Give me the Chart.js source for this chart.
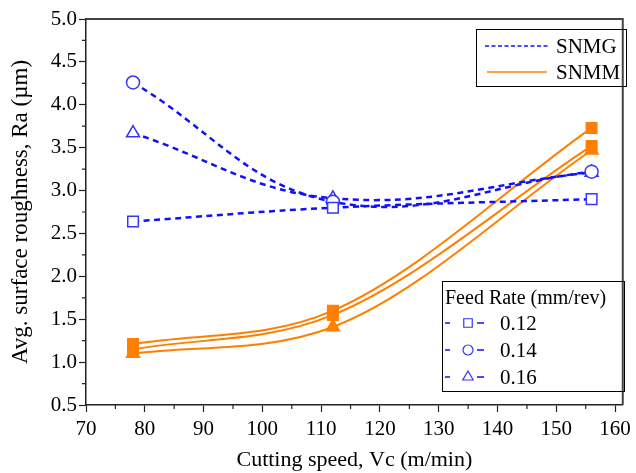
<!DOCTYPE html>
<html>
<head>
<meta charset="utf-8">
<script src="https://cdn.jsdelivr.net/npm/chart.js@4.4.0/dist/chart.umd.min.js"></script>
<style>
  html, body { margin: 0; padding: 0; background: #fff; }
  #wrap { width: 636px; height: 473px; }
</style>
</head>
<body>
<div id="wrap"><canvas id="roughChart" width="636" height="473"></canvas></div>
<script>
// cutting speed (m/min) and feed rates (mm/rev)
const cuttingSpeed = [78, 112, 156];
const feedRates = ["0.12", "0.14", "0.16"];

// SNMG insert, Ra (um)
const snmg012 = [2.64, 2.80, 2.90];
const snmg014 = [4.26, 2.87, 3.22];
const snmg016 = [3.67, 2.91, 3.21];

// SNMM insert, Ra (um)
const snmm012 = [1.21, 1.60, 3.73];
const snmm014 = [1.15, 1.55, 3.52];
const snmm016 = [1.10, 1.41, 3.47];

const xTicks = [70, 80, 90, 100, 110, 120, 130, 140, 150, 160];
const yTicks = [0.5, 1.0, 1.5, 2.0, 2.5, 3.0, 3.5, 4.0, 4.5, 5.0];

const BLUE = "#1010ff";
const ORANGE = "#ff8000";
const AXIS = "#222";
const FONT = "'Liberation Serif', 'Times New Roman', serif";

const toPoints = (values) => values.map((v, i) => ({ x: cuttingSpeed[i], y: v }));

const snmgSet = (values, style, radius) => ({
  data: toPoints(values),
  borderColor: BLUE,
  borderWidth: 2.5,
  borderDash: [6, 4.5],
  tension: 0.4,
  pointStyle: style,
  pointRadius: radius,
  pointBorderWidth: 1.5,
  pointBorderColor: "#3535ff",
  pointBackgroundColor: "#fff",
});

const snmmSet = (values, style, radius) => ({
  data: toPoints(values),
  borderColor: ORANGE,
  borderWidth: 2,
  cubicInterpolationMode: "monotone",
  pointStyle: style,
  pointRadius: radius,
  pointBorderWidth: 0,
  pointBackgroundColor: ORANGE,
});

// minor ticks, top/right frame
const framePlugin = {
  id: "frame",
  afterDraw: (chart) => {
    const { ctx, chartArea: a, scales } = chart;
    ctx.save();
    ctx.strokeStyle = "#444";
    ctx.lineWidth = 2;
    ctx.beginPath();
    ctx.moveTo(a.left, a.top);
    ctx.lineTo(a.right, a.top);
    ctx.lineTo(a.right, a.bottom);
    ctx.stroke();
    ctx.strokeStyle = AXIS;
    ctx.lineWidth = 1.2;
    ctx.beginPath();
    for (let i = 0; i < xTicks.length; i++) {
      const px = scales.x.getPixelForValue(xTicks[i] + 5);
      if (px > a.right) break;
      ctx.moveTo(px, a.bottom);
      ctx.lineTo(px, a.bottom + 4);
    }
    for (let i = 0; i < yTicks.length - 1; i++) {
      const py = scales.y.getPixelForValue(yTicks[i] + 0.25);
      ctx.moveTo(a.left, py);
      ctx.lineTo(a.left - 4, py);
    }
    ctx.stroke();
    ctx.restore();
  },
};

// the two boxed legends
const legendPlugin = {
  id: "legendBoxes",
  afterDraw: (chart) => {
    const { ctx } = chart;
    ctx.save();
    ctx.font = "21px " + FONT;
    ctx.fillStyle = "#000";
    ctx.textBaseline = "middle";
    ctx.strokeStyle = "#000";
    ctx.lineWidth = 1;

    // inserts
    ctx.strokeRect(476.5, 29.5, 150, 57);
    ctx.strokeStyle = BLUE;
    ctx.lineWidth = 1.5;
    ctx.setLineDash([4, 2.5]);
    ctx.beginPath();
    ctx.moveTo(485, 46);
    ctx.lineTo(549, 46);
    ctx.stroke();
    ctx.setLineDash([]);
    ctx.strokeStyle = ORANGE;
    ctx.beginPath();
    ctx.moveTo(487, 72);
    ctx.lineTo(547, 72);
    ctx.stroke();
    ctx.fillText("SNMG", 556, 47);
    ctx.fillText("SNMM", 556, 73);

    // feed rates
    ctx.strokeStyle = "#000";
    ctx.lineWidth = 1;
    ctx.strokeRect(442.5, 281.5, 182, 110);
    ctx.font = "20px " + FONT;
    ctx.fillText("Feed Rate (mm/rev)", 445, 299);
    ctx.font = "21px " + FONT;
    const styles = ["rect", "circle", "triangle"];
    const radii = [6, 5, 6];
    feedRates.forEach((rate, i) => {
      const y = 323 + i * 27;
      ctx.strokeStyle = BLUE;
      ctx.lineWidth = 1.5;
      ctx.beginPath();
      ctx.moveTo(445, y);
      ctx.lineTo(450, y);
      ctx.moveTo(477, y);
      ctx.lineTo(484, y);
      ctx.stroke();
      ctx.fillStyle = "#fff";
      ctx.strokeStyle = "#3535ff";
      ctx.lineWidth = 1.2;
      Chart.helpers.drawPoint(ctx, { pointStyle: styles[i], radius: radii[i], rotation: 0, borderWidth: 1.2 }, 468, y);
      ctx.fillStyle = "#000";
      ctx.fillText(rate, 500, y + 1);
    });
    ctx.restore();
  },
};

Chart.defaults.font.family = FONT;
Chart.defaults.color = "#000";

new Chart(document.getElementById("roughChart"), {
  type: "line",
  data: {
    datasets: [
      snmgSet(snmg012, "rect", 7.5),
      snmgSet(snmg014, "circle", 6.5),
      snmgSet(snmg016, "triangle", 7.5),
      snmmSet(snmm012, "rect", 8.5),
      snmmSet(snmm014, "rect", 8.5),
      snmmSet(snmm016, "triangle", 9),
    ],
  },
  options: {
    responsive: false,
    animation: false,
    devicePixelRatio: 1,
    layout: { padding: { left: 0, top: 19, right: 8, bottom: 0 } },
    plugins: { legend: { display: false }, tooltip: { enabled: false } },
    scales: {
      x: {
        type: "linear",
        min: 70,
        max: 161.3,
        afterBuildTicks: (scale) => {
          scale.ticks = xTicks.map((v) => ({ value: v }));
        },
        afterFit: (scale) => {
          scale.height = 68;
        },
        ticks: { font: { size: 21 }, padding: 5, maxRotation: 0 },
        grid: { drawOnChartArea: false, tickLength: 7, tickColor: AXIS, tickWidth: 1.2 },
        border: { color: AXIS, width: 1.5 },
        title: {
          display: true,
          text: "Cutting speed, Vc (m/min)",
          font: { size: 22 },
          padding: { top: 0, bottom: 0 },
        },
      },
      y: {
        type: "linear",
        min: 0.5,
        max: 5.0,
        afterBuildTicks: (scale) => {
          scale.ticks = yTicks.map((v) => ({ value: v }));
        },
        afterFit: (scale) => {
          scale.width = 86;
        },
        ticks: { font: { size: 21 }, padding: 2, callback: (v) => v.toFixed(1) },
        grid: { drawOnChartArea: false, tickLength: 7, tickColor: AXIS, tickWidth: 1.2 },
        border: { color: AXIS, width: 1.5 },
        title: {
          display: true,
          text: "Avg. surface roughness, Ra (µm)",
          font: { size: 23 },
          padding: { top: 7, bottom: 0 },
        },
      },
    },
  },
  plugins: [framePlugin, legendPlugin],
});
</script>
</body>
</html>
